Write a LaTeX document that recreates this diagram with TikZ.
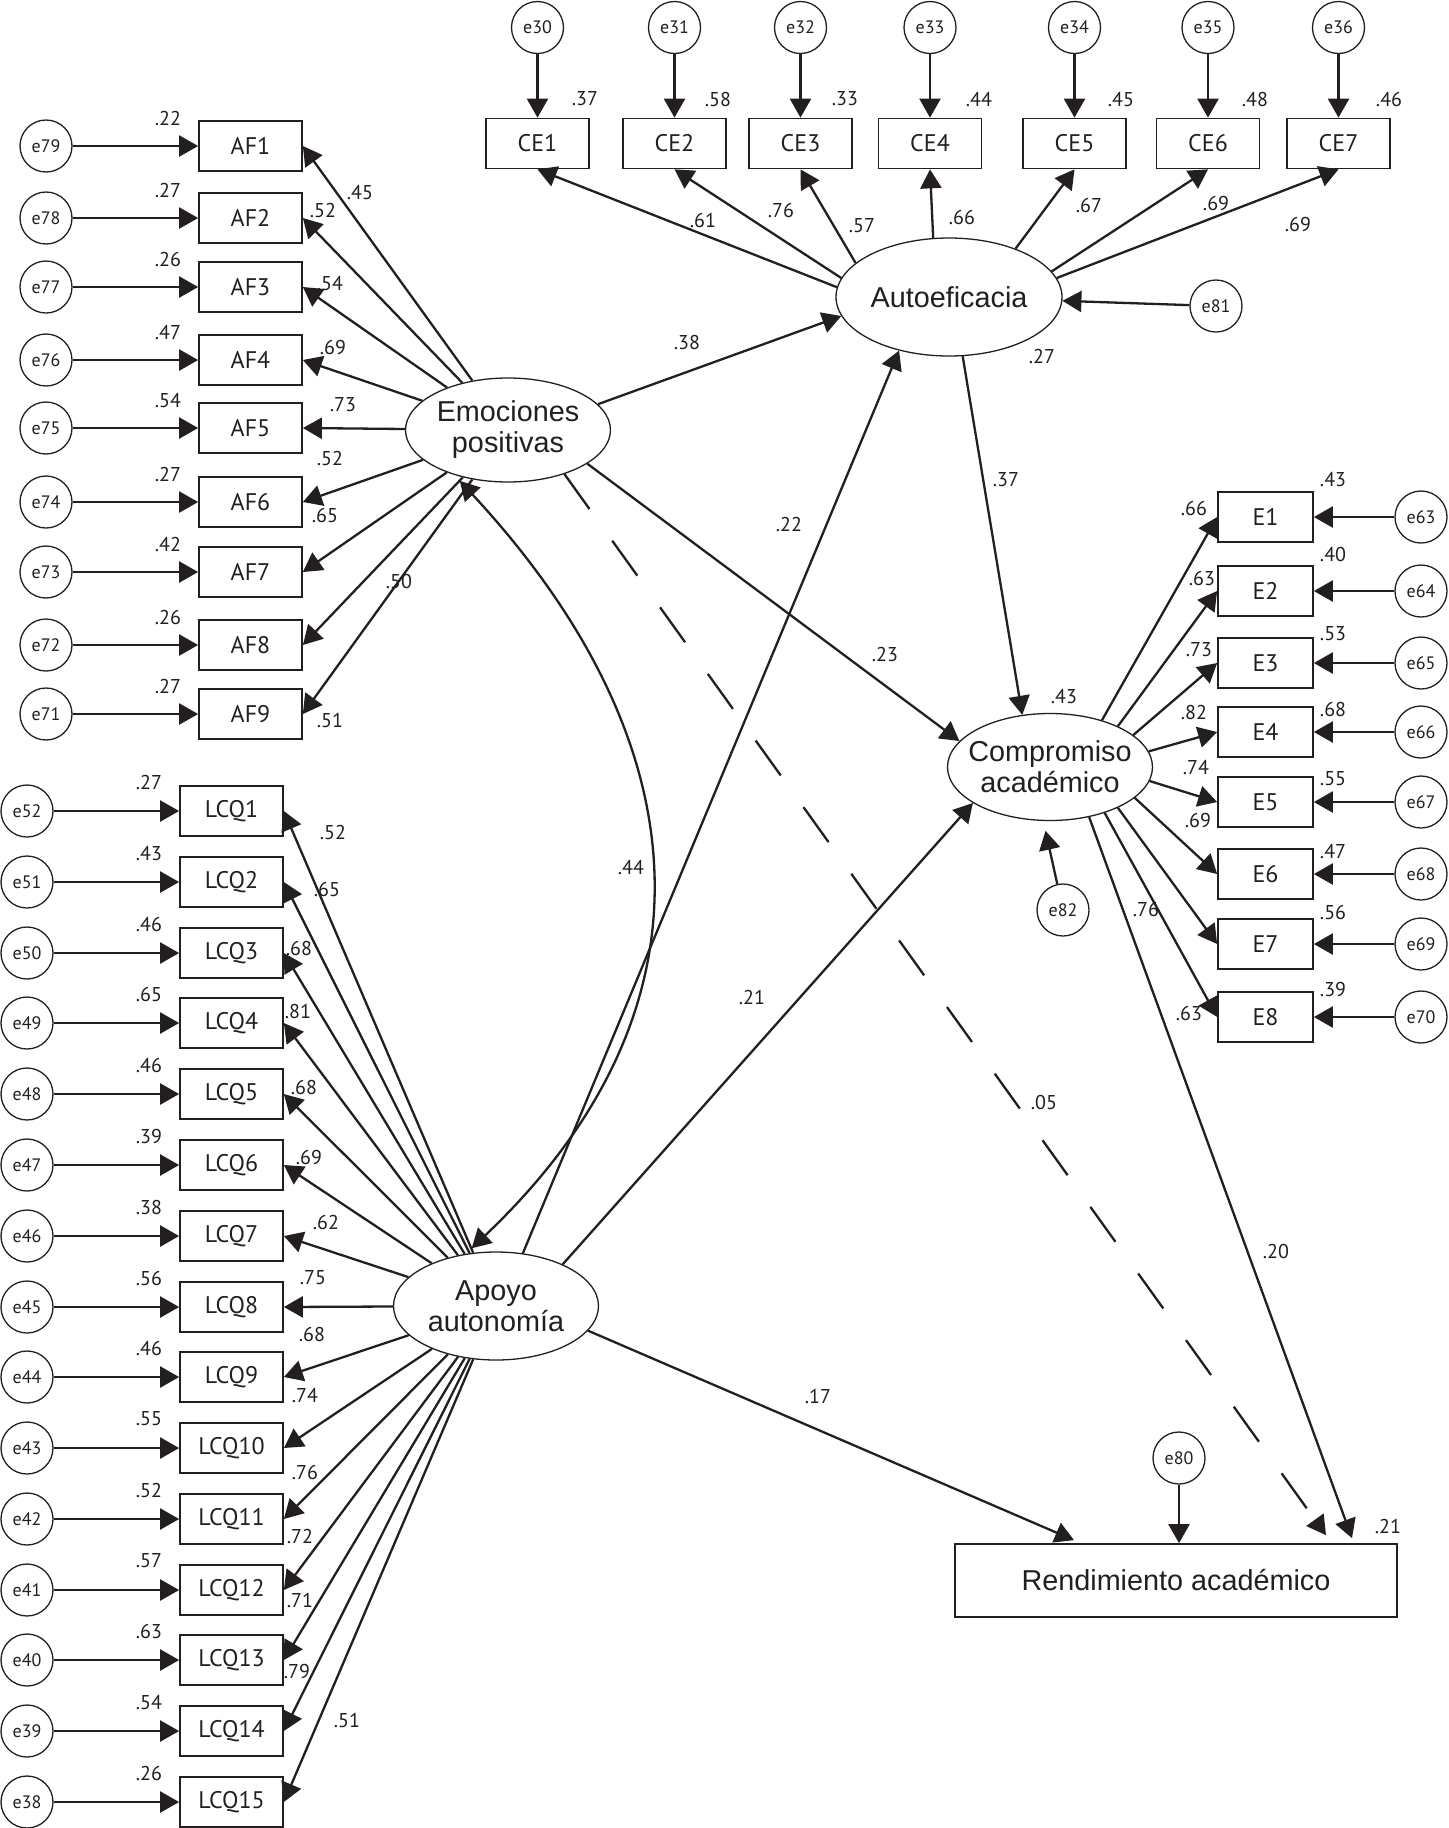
\documentclass[tikz,border=0pt]{standalone}
\usepackage{fontspec}
\setmainfont{PT Sans}
\newfontfamily\arialfam{Liberation Sans}
\usetikzlibrary{arrows.meta,calc,shapes.geometric}
\definecolor{ink}{HTML}{231F20}
\tikzset{
  obs/.style={draw=ink, line width=0.85pt, minimum width=51.5pt, minimum height=25pt, inner sep=0pt, text=ink, font=\fontsize{12}{13}\selectfont},
  obsE/.style={obs, minimum width=47.5pt},
  err/.style={circle, draw=ink, line width=0.65pt, minimum size=26pt, inner sep=0pt, text=ink, font=\fontsize{9}{10}\selectfont},
  lat/.style={ellipse, draw=ink, line width=0.65pt, inner sep=0pt},
  lattxt/.style={align=center, inner sep=0pt, text=ink, font=\arialfam\fontsize{14.4}{15.5}\selectfont},
  arr/.style={-{Triangle[length=9.5pt,width=10.5pt]}, line width=1.15pt, draw=ink},
  cov/.style={{Triangle[length=9.5pt,width=10.5pt]}-{Triangle[length=9.5pt,width=10.5pt]}, line width=1.15pt, draw=ink},
  num/.style={inner sep=0pt, text=ink, font=\fontsize{10}{11}\selectfont}
}

\begin{document}
\begin{tikzpicture}[x=0.5pt,y=-0.5pt]
  \fill[white] (0,0) rectangle (1448,1828);
  \useasboundingbox (0,0) rectangle (1448,1828);

  % latent variables and outcome
  \node[lat, minimum width=102.5pt, minimum height=52pt, label={[lattxt]center:Emociones\\positivas}] (EP) at (508,430) {};
  \node[lat, minimum width=113pt, minimum height=59pt, label={[lattxt]center:Autoeficacia}] (AE) at (949,297) {};
  \node[lat, minimum width=102.5pt, minimum height=53.5pt, label={[lattxt]center:Compromiso\\académico}] (CA) at (1050,767) {};
  \node[lat, minimum width=102.5pt, minimum height=54pt, label={[lattxt]center:Apoyo\\autonomía}] (AA) at (496,1306) {};
  \node[obs, minimum width=221pt, minimum height=36.5pt, font=\arialfam\fontsize{14.4}{16}\selectfont] (RA) at (1176,1580.5) {Rendimiento académico};

  \node[err] (e81) at (1216,306) {e81};
  \node[err] (e82) at (1063,910) {e82};
  \node[err] (e80) at (1179,1458) {e80};

  % emociones positivas: AF items
  \foreach \i/\y/\e/\r/\l/\lx/\ly in {1/146/79/.22/.45/360/192, 2/218/78/.27/.52/323/210,
      3/287/77/.26/.54/330/283, 4/360/76/.47/.69/333/347, 5/428/75/.54/.73/343/405,
      6/502/74/.27/.52/330/458, 7/572/73/.42/.65/325/515, 8/645/72/.26/.50/399/581,
      9/714/71/.27/.51/330/720}{
    \node[obs] (AF\i) at (250.5,\y) {AF\i};
    \node[err] (e\e) at (46,\y) {e\e};
    \draw[arr] (e\e) -- (AF\i);
    \node[num] at (168,\y-28) {\r};
    \draw[arr] (EP) -- (AF\i.east);
    \node[num] at (\lx,\ly) {\l};
  }

  % apoyo autonomia: LCQ items
  \foreach \i/\y/\e/\r/\l/\lx/\ly in {1/811/52/.27/.52/333/832, 2/882/51/.43/.65/327/889,
      3/953/50/.46/.68/299/948, 4/1023/49/.65/.81/298/1011, 5/1094/48/.46/.68/304/1087,
      6/1165/47/.39/.69/309/1157, 7/1236/46/.38/.62/326/1222, 8/1307/45/.56/.75/313/1278,
      9/1377/44/.46/.68/312/1334, 10/1448/43/.55/.74/305/1395, 11/1519/42/.52/.76/305/1472,
      12/1590/41/.57/.72/300/1536, 13/1660/40/.63/.71/300/1600, 14/1731/39/.54/.79/297/1671,
      15/1802/38/.26/.51/347/1720}{
    \node[obs] (LCQ\i) at (231.5,\y) {LCQ\i};
    \node[err] (e\e) at (27,\y) {e\e};
    \draw[arr] (e\e) -- (LCQ\i);
    \node[num] at (149,\y-29) {\r};
    \draw[arr] (AA) -- (LCQ\i.east);
    \node[num] at (\lx,\ly) {\l};
  }

  % autoeficacia: CE items
  \foreach \i/\x/\e/\r/\rx/\a/\l/\lx/\ly in {1/537.5/30/.37/585/175/.61/703/220, 2/674.5/31/.58/718/170/.76/781/210,
      3/800.5/32/.33/845/160/.57/862/226, 4/930/33/.44/979/105/.66/962/217, 5/1074.5/34/.45/1121/36/.67/1089/205,
      6/1208/35/.48/1255/14/.69/1216/203, 7/1338.5/36/.46/1389/10/.69/1298/224}{
    \node[obs] (CE\i) at (\x,143.5) {CE\i};
    \node[err] (e\e) at (\x,27.5) {e\e};
    \draw[arr] (e\e) -- (CE\i);
    \node[num] at (\rx,99) {\r};
    \draw[arr] (AE.\a) -- (CE\i.south);
    \node[num] at (\lx,\ly) {\l};
  }

  % compromiso academico: E items
  \foreach \i/\y/\e/\r/\ry/\a/\l/\lx/\ly in {1/517/63/.43/479/42/.66/1194/508, 2/591/64/.40/554/31/.63/1202/578,
      3/663/65/.53/634/21/.73/1199/650, 4/732/66/.68/709/9/.82/1194/712, 5/802/67/.55/779/-8/.74/1196/767,
      6/874/68/.47/851/-20/.69/1198/820, 7/944/69/.56/912/-31/.76/1146/909, 8/1017/70/.39/989/-40/.63/1189/1013}{
    \node[obsE] (E\i) at (1265.5,\y) {E\i};
    \node[err] (e\e) at (1421,\y) {e\e};
    \draw[arr] (e\e) -- (E\i);
    \node[num] at (1333,\ry) {\r};
    \draw[arr] (CA.\a) -- (E\i.west);
    \node[num] at (\lx,\ly) {\l};
  }

  % structural paths
  \draw[arr] (EP.16) -- (AE.190);
  \draw[arr] (EP.337) -- (CA.164);
  \draw[arr, dash pattern=on 21.5pt off 19.5pt] (EP.322) -- ($(RA.north)+(150,-8)$);
  \draw[arr] (AE.283) -- (CA.118);
  \draw[arr] (AA.63) -- (AE.227);
  \draw[arr] (AA.32) -- (CA.205);
  \draw[arr] (AA.345) -- ($(RA.north)+(-102,-3)$);
  \draw[arr] (CA.308) -- ($(RA.north)+(176,-5)$);
  \draw[cov, shorten <=4pt, shorten >=4pt] (EP.220) .. controls (700,740) and (726,1007) .. (AA.120);
  \draw[arr] (e81) -- (AE);
  \draw[arr, shorten >=5pt] (e82) -- (CA.263);
  \draw[arr] (e80) -- (e80 |- RA.north);

  \node[num] at (687,342) {.38};
  \node[num] at (885,654) {.23};
  \node[num] at (1044,1102) {.05};
  \node[num] at (789,524) {.22};
  \node[num] at (631,867) {.44};
  \node[num] at (752,997) {.21};
  \node[num] at (818,1396) {.17};
  \node[num] at (1006,480) {.37};
  \node[num] at (1276,1251) {.20};
  \node[num] at (1042,356) {.27};
  \node[num] at (1064,696) {.43};
  \node[num] at (1388,1526) {.21};
\end{tikzpicture}
\end{document}
